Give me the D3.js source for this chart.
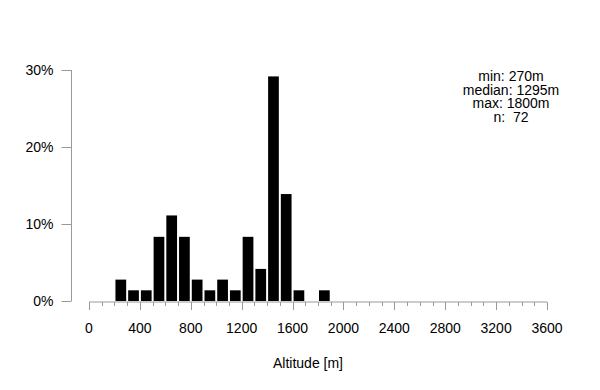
<!DOCTYPE html>
<html>
<head>
<meta charset="utf-8">
<script src="https://cdn.jsdelivr.net/npm/d3@7"></script>
<style>
	body { margin: 0; background: #fff; }
	text { font-family: "Liberation Sans", Arial, sans-serif; }
</style>
</head>
<body>
<script>
// bin starts (m), bin width 100
const binStarts = [200, 300, 400, 500, 600, 700, 800, 900, 1000, 1100, 1200, 1300, 1400, 1500, 1600, 1700, 1800];
const counts = [2, 1, 1, 6, 8, 6, 2, 1, 2, 1, 6, 3, 21, 10, 1, 0, 1];
const total = 72;
const xTicks = [0, 400, 800, 1200, 1600, 2000, 2400, 2800, 3200, 3600];
const yTicks = [0, 10, 20, 30];
const statLines = ["min: 270m", "median: 1295m", "max: 1800m", "n:  72"];

const width = 600, height = 390;
const axisColor = "#999";

const x = d3.scaleLinear().domain([0, 3600]).range([89, 547]);
const y = d3.scaleLinear().domain([0, 30]).range([301, 70]);

const svg = d3.select("body").append("svg")
	.attr("width", width)
	.attr("height", height);

const bins = binStarts.map((s, i) => ({x0: s, x1: s + 100, pct: counts[i] / total * 100}))
	.filter(d => d.pct > 0);

svg.append("g")
	.selectAll("rect")
	.data(bins)
	.join("rect")
		.attr("x", d => x(d.x0) + 1)
		.attr("width", d => x(d.x1) - x(d.x0) - 2)
		.attr("y", d => y(d.pct))
		.attr("height", d => y(0) - y(d.pct))
		.attr("fill", "#000");

// x axis with minor ticks every 100
const xg = svg.append("g")
	.attr("transform", "translate(0,302)");
xg.append("line")
	.attr("x1", x(0)).attr("x2", x(3600))
	.attr("stroke", axisColor);
xg.selectAll("line.minor")
	.data(d3.range(0, 3601, 100))
	.join("line")
		.attr("class", "minor")
		.attr("x1", d => Math.round(x(d)) + 0.5)
		.attr("x2", d => Math.round(x(d)) + 0.5)
		.attr("y1", 0)
		.attr("y2", d => d % 400 === 0 ? 8 : 4)
		.attr("stroke", axisColor);
xg.selectAll("text")
	.data(xTicks)
	.join("text")
		.attr("x", d => x(d))
		.attr("y", 31)
		.attr("text-anchor", "middle")
		.attr("font-size", 14)
		.text(d => d);

// y axis
const yg = svg.append("g")
	.attr("transform", "translate(71.5,0)");
yg.append("line")
	.attr("y1", y(0)).attr("y2", y(30))
	.attr("stroke", axisColor);
yg.selectAll("line.tick")
	.data(yTicks)
	.join("line")
		.attr("class", "tick")
		.attr("x1", -10).attr("x2", 0)
		.attr("y1", d => Math.round(y(d)) + 0.5)
		.attr("y2", d => Math.round(y(d)) + 0.5)
		.attr("stroke", axisColor);
yg.selectAll("text")
	.data(yTicks)
	.join("text")
		.attr("x", -18)
		.attr("y", d => y(d) + 5)
		.attr("text-anchor", "end")
		.attr("font-size", 14)
		.text(d => d + "%");

svg.append("text")
	.attr("x", 308)
	.attr("y", 368)
	.attr("text-anchor", "middle")
	.attr("font-size", 14)
	.text("Altitude [m]");

// summary block, tight line spacing as in the original
svg.append("g")
	.selectAll("text")
	.data(statLines)
	.join("text")
		.attr("x", 511)
		.attr("y", (d, i) => 81 + i * 13.7)
		.attr("text-anchor", "middle")
		.attr("font-size", 14)
		.attr("xml:space", "preserve")
		.style("white-space", "pre")
		.text(d => d);
</script>
</body>
</html>
